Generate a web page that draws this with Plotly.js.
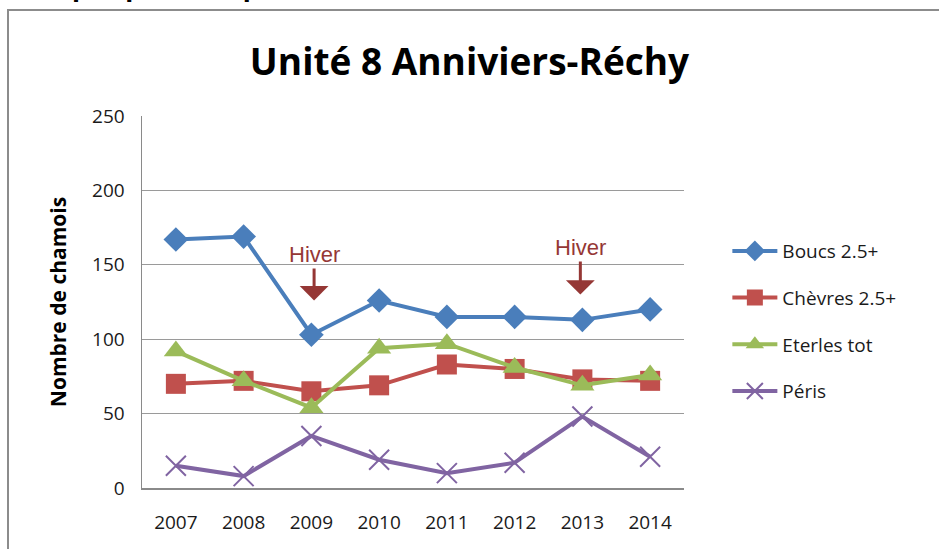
<!DOCTYPE html>
<html>
<head>
<meta charset="utf-8">
<script src="https://cdn.plot.ly/plotly-3.0.1.min.js"></script>
<style>
html,body{margin:0;padding:0;background:#fff;}
#chart{width:939px;height:549px;}
</style>
</head>
<body>
<div id="chart"></div>
<script>
const years = ['2007','2008','2009','2010','2011','2012','2013','2014'];
const boucs = [167, 169, 103, 126, 115, 115, 113, 120];
const chevres = [70, 72, 65, 69, 83, 80, 73, 72];
const eterles = [92, 72, 54, 94, 97, 81, 69, 76];
const peris = [15, 8, 35, 19, 10, 17, 48, 21];
const seriesNames = ['Boucs 2.5+', 'Chèvres 2.5+', 'Eterles tot', 'Péris'];
const yTicks = [0, 50, 100, 150, 200, 250];
const hiverYears = ['2009', '2013'];
const hiverLevels = [126, 130];
const hiverOffsets = [0.04, -0.03];

const colors = ['#4A7EBB', '#C0504D', '#9BBB59', '#8064A2'];
const symbols = ['diamond', 'square', 'triangle-up', 'x-thin-open'];
const sizes = [19, 20, 21, 20];
const values = [boucs, chevres, eterles, peris];

const traces = values.map((v, i) => ({
  x: years,
  y: v,
  name: seriesNames[i],
  type: 'scatter',
  mode: 'lines+markers',
  legendgroup: 'g' + i,
  line: {color: colors[i], width: 4},
  marker: {
    color: colors[i],
    symbol: symbols[i],
    size: sizes[i],
    line: {color: colors[i], width: i === 3 ? 2 : 0}
  }
}));

const annotations = hiverYears.map((yr, i) => ({
  x: years.indexOf(yr) + hiverOffsets[i], y: hiverLevels[i], xref: 'x', yref: 'y',
  text: 'Hiver', showarrow: true,
  ax: 0, ay: i === 0 ? -46 : -47,
  arrowhead: 1, arrowwidth: 3, arrowsize: 1.6,
  arrowcolor: '#953735',
  font: {family: 'Liberation Sans, Arial, sans-serif', size: 22, color: '#953735'}
}));

annotations.push({
  xref: 'paper', yref: 'paper', x: -0.225, y: 1.30,
  xanchor: 'left', yanchor: 'bottom', showarrow: false,
  text: '<b>Graphique : Graphik 8.2.8 :</b>',
  font: {family: 'Liberation Sans, Arial, sans-serif', size: 29, color: '#000'}
});

const layout = {
  width: 939, height: 549,
  margin: {l: 142, r: 255, t: 116, b: 61},
  paper_bgcolor: '#fff', plot_bgcolor: '#fff',
  title: {
    text: '<b>Unité 8 Anniviers-Réchy</b>',
    x: 0.5, xref: 'container', y: 1 - 62/549, yref: 'container',
    xanchor: 'center', yanchor: 'middle',
    font: {family: 'Open Sans, sans-serif', size: 37, color: '#000'}
  },
  xaxis: {
    type: 'category',
    categoryorder: 'array', categoryarray: years,
    range: [-0.5, 7.5],
    showgrid: false, showline: true, linecolor: '#8a8a8a', linewidth: 1.5,
    ticks: '', ticklabelstandoff: 17,
    tickfont: {family: 'Open Sans, sans-serif', size: 19, color: '#1a1a1a'},
    zeroline: false, fixedrange: true
  },
  yaxis: {
    range: [0, 250],
    tickvals: yTicks, ticktext: yTicks.map(String),
    showgrid: true, gridcolor: '#9a9a9a', gridwidth: 1.3,
    showline: true, linecolor: '#8a8a8a', linewidth: 1.5,
    zeroline: false, ticks: '', ticklabelstandoff: 12,
    tickfont: {family: 'Open Sans, sans-serif', size: 19, color: '#1a1a1a'},
    title: {
      text: '<b>Nombre de chamois</b>',
      standoff: 20,
      font: {family: 'Open Sans, sans-serif', size: 21, color: '#000'}
    },
    fixedrange: true
  },
  legend: {
    x: 1.08, xanchor: 'left', y: 0.688, yanchor: 'top',
    font: {family: 'Open Sans, sans-serif', size: 19, color: '#1a1a1a'},
    tracegroupgap: 19, bgcolor: 'rgba(0,0,0,0)', itemwidth: 45
  },
  annotations: annotations,
  shapes: [{
    type: 'rect', xref: 'paper', yref: 'paper',
    x0: (8 - 142) / 542, x1: 1.6, y0: -0.4, y1: (488 - 10) / 372,
    line: {color: '#8c8c8c', width: 2}, fillcolor: 'rgba(0,0,0,0)', layer: 'below'
  }],
  showlegend: true
};

Plotly.newPlot('chart', traces, layout, {displayModeBar: false, staticPlot: true});
</script>
</body>
</html>
